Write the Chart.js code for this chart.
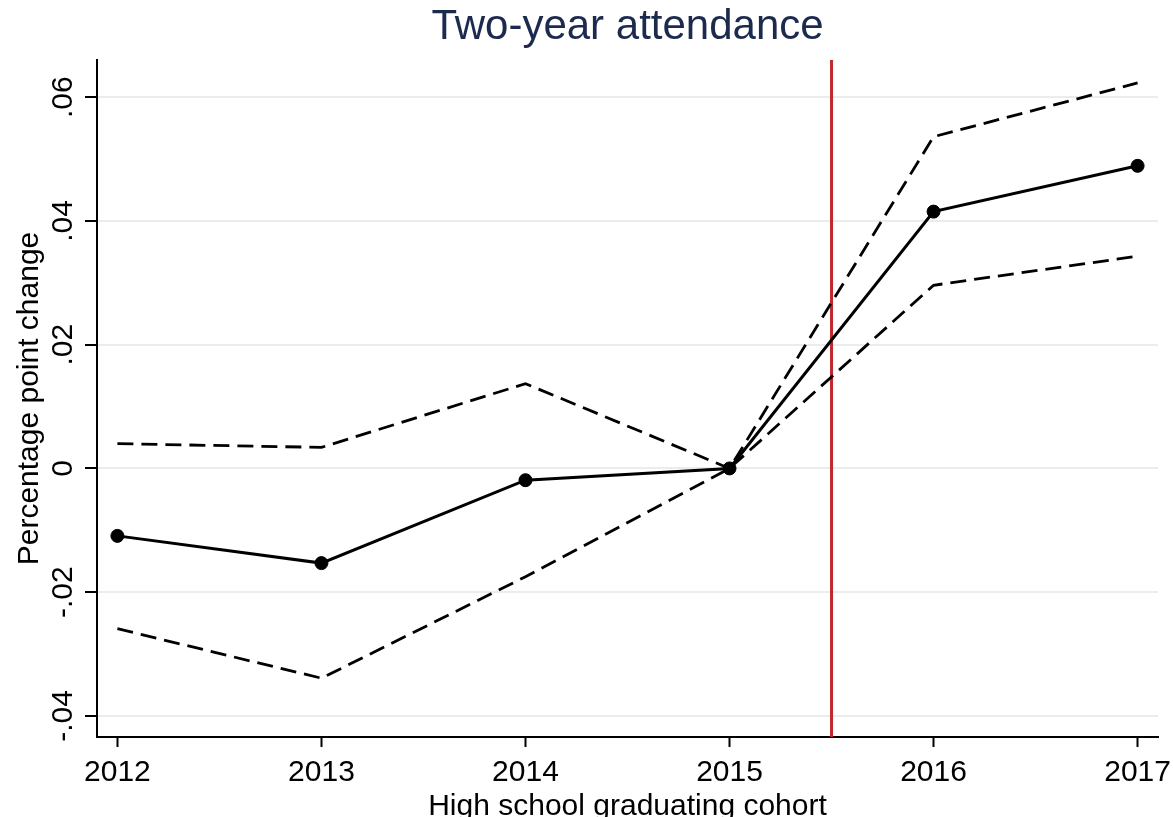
<!DOCTYPE html>
<html>
<head>
<meta charset="utf-8">
<title>Two-year attendance</title>
<script src="https://cdn.jsdelivr.net/npm/chart.js@4.4.1/dist/chart.umd.min.js"></script>
<style>
  html, body { margin: 0; padding: 0; background: #ffffff; }
  canvas { display: block; }
</style>
</head>
<body>
<canvas id="chart" width="1173" height="817"></canvas>
<script>
// Event-study estimates by high school graduating cohort (2015 = reference year)
const cohorts = [2012, 2013, 2014, 2015, 2016, 2017];
const pointEstimate = [-0.0109, -0.0153, -0.0019, 0, 0.0415, 0.0489];
const upperBound = [0.0040, 0.0034, 0.0137, 0, 0.0536, 0.0623];
const lowerBound = [-0.0259, -0.0339, -0.0175, 0, 0.0296, 0.0343];

// Axis ticks
const yTickValues = [-0.04, -0.02, 0, 0.02, 0.04, 0.06];
const yTickLabels = ['-.04', '-.02', '0', '.02', '.04', '.06'];

// Policy change falls between the 2015 and 2016 cohorts
const policyCutoff = 2015.5;

const FONT = '"Liberation Sans", Arial, "DejaVu Sans", sans-serif';

const toPoints = (values) => cohorts.map((c, i) => ({ x: c, y: values[i] }));

// Vertical reference line at the policy cutoff
const cutoffLine = {
  id: 'cutoffLine',
  beforeDatasetsDraw(chart) {
    const { ctx, chartArea, scales } = chart;
    const x = scales.x.getPixelForValue(policyCutoff);
    ctx.save();
    ctx.strokeStyle = '#c1272d';
    ctx.lineWidth = 3;
    ctx.beginPath();
    ctx.moveTo(x, chartArea.top);
    ctx.lineTo(x, chartArea.bottom);
    ctx.stroke();
    ctx.restore();
  }
};

// Rotated y tick labels and the axis titles
const axisText = {
  id: 'axisText',
  afterDraw(chart) {
    const { ctx, chartArea, scales } = chart;
    const midY = (chartArea.top + chartArea.bottom) / 2;
    const midX = (chartArea.left + chartArea.right) / 2;
    ctx.save();
    ctx.fillStyle = '#000000';

    // y tick labels, reading bottom to top
    ctx.font = '30px ' + FONT;
    ctx.textAlign = 'center';
    ctx.textBaseline = 'alphabetic';
    yTickValues.forEach((v, i) => {
      const y = scales.y.getPixelForValue(v);
      ctx.save();
      ctx.translate(72, y);
      ctx.rotate(-Math.PI / 2);
      ctx.fillText(yTickLabels[i], 0, 0);
      ctx.restore();
    });

    // y axis title
    ctx.save();
    ctx.translate(38, midY);
    ctx.rotate(-Math.PI / 2);
    ctx.fillText('Percentage point change', 0, 0);
    ctx.restore();

    // x axis title
    ctx.fillText('High school graduating cohort', midX, 815);
    ctx.restore();
  }
};

new Chart(document.getElementById('chart'), {
  type: 'line',
  data: {
    datasets: [
      {
        label: 'Estimate',
        data: toPoints(pointEstimate),
        borderColor: '#000000',
        backgroundColor: '#000000',
        borderWidth: 3,
        pointRadius: 6.5,
        pointBorderWidth: 1,
        pointBorderColor: '#000000',
        pointBackgroundColor: '#000000',
        tension: 0
      },
      {
        label: 'Upper 95% CI',
        data: toPoints(upperBound),
        borderColor: '#000000',
        borderWidth: 2.8,
        borderDash: [16, 8],
        pointRadius: 0,
        tension: 0
      },
      {
        label: 'Lower 95% CI',
        data: toPoints(lowerBound),
        borderColor: '#000000',
        borderWidth: 2.8,
        borderDash: [16, 8],
        pointRadius: 0,
        tension: 0
      }
    ]
  },
  options: {
    responsive: false,
    animation: false,
    devicePixelRatio: 1,
    layout: { padding: { top: 0, right: 15, bottom: 0, left: 0 } },
    plugins: {
      legend: { display: false },
      tooltip: { enabled: false },
      title: {
        display: true,
        text: 'Two-year attendance',
        color: '#1c2a4e',
        fullSize: false,
        font: { family: FONT, size: 42, weight: 'normal' },
        padding: { top: 2, bottom: 7.6 }
      }
    },
    scales: {
      x: {
        type: 'linear',
        min: 2011.9,
        max: 2017.1,
        afterBuildTicks: (scale) => { scale.ticks = cohorts.map(v => ({ value: v })); },
        afterFit: (scale) => {
          scale.height = 80;
          scale.paddingLeft = 0;
          scale.paddingRight = 0;
        },
        ticks: {
          color: '#000000',
          font: { family: FONT, size: 30 },
          padding: 8,
          maxRotation: 0,
          autoSkip: false,
          callback: (value) => String(value)
        },
        grid: {
          drawOnChartArea: false,
          drawTicks: true,
          tickLength: 10,
          tickColor: '#000000',
          tickWidth: 2
        },
        border: { display: true, color: '#000000', width: 2 }
      },
      y: {
        type: 'linear',
        min: -0.0434,
        max: 0.066,
        afterBuildTicks: (scale) => { scale.ticks = yTickValues.map(v => ({ value: v })); },
        afterFit: (scale) => {
          scale.width = 97;
          scale.paddingTop = 0;
          scale.paddingBottom = 0;
        },
        ticks: { display: false },
        grid: {
          color: '#e9eded',
          lineWidth: 2,
          drawTicks: true,
          tickLength: 12,
          tickColor: '#000000',
          tickWidth: 2
        },
        border: { display: true, color: '#000000', width: 2 }
      }
    }
  },
  plugins: [cutoffLine, axisText]
});
</script>
</body>
</html>
